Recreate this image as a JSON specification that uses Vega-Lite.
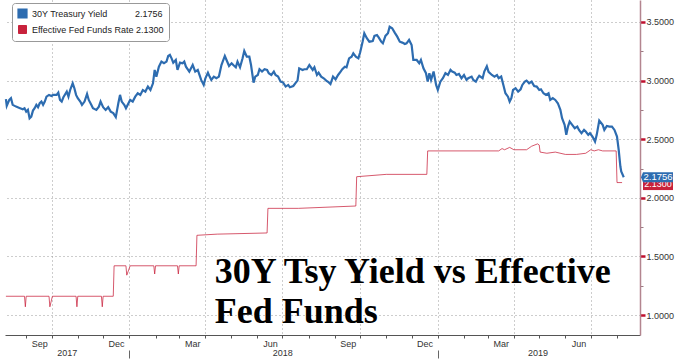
{
"$schema": "https://vega.github.io/schema/vega-lite/v6.json",
"width": 635, "height": 335,
"autosize": {"type": "none"},
"padding": {"left": 5, "top": 0, "right": 40, "bottom": 27},
"background": "white",
"config": {"view": {"stroke": null}, "font": "Liberation Sans"},
"datasets": {
"rates": [
{"series":"EFFR","date":"2017-08-08","value":1.16},
{"series":"EFFR","date":"2017-08-30","value":1.16},
{"series":"EFFR","date":"2017-08-31","value":1.07},
{"series":"EFFR","date":"2017-09-01","value":1.16},
{"series":"EFFR","date":"2017-09-28","value":1.16},
{"series":"EFFR","date":"2017-09-29","value":1.07},
{"series":"EFFR","date":"2017-10-02","value":1.16},
{"series":"EFFR","date":"2017-10-30","value":1.16},
{"series":"EFFR","date":"2017-10-31","value":1.07},
{"series":"EFFR","date":"2017-11-01","value":1.16},
{"series":"EFFR","date":"2017-11-29","value":1.16},
{"series":"EFFR","date":"2017-11-30","value":1.07},
{"series":"EFFR","date":"2017-12-01","value":1.16},
{"series":"EFFR","date":"2017-12-13","value":1.16},
{"series":"EFFR","date":"2017-12-14","value":1.42},
{"series":"EFFR","date":"2017-12-28","value":1.42},
{"series":"EFFR","date":"2017-12-29","value":1.34},
{"series":"EFFR","date":"2018-01-02","value":1.42},
{"series":"EFFR","date":"2018-01-30","value":1.42},
{"series":"EFFR","date":"2018-01-31","value":1.35},
{"series":"EFFR","date":"2018-02-01","value":1.42},
{"series":"EFFR","date":"2018-02-27","value":1.42},
{"series":"EFFR","date":"2018-02-28","value":1.35},
{"series":"EFFR","date":"2018-03-01","value":1.42},
{"series":"EFFR","date":"2018-03-21","value":1.42},
{"series":"EFFR","date":"2018-03-22","value":1.68},
{"series":"EFFR","date":"2018-04-15","value":1.69},
{"series":"EFFR","date":"2018-06-13","value":1.70},
{"series":"EFFR","date":"2018-06-14","value":1.91},
{"series":"EFFR","date":"2018-07-20","value":1.91},
{"series":"EFFR","date":"2018-09-26","value":1.93},
{"series":"EFFR","date":"2018-09-27","value":2.18},
{"series":"EFFR","date":"2018-11-01","value":2.20},
{"series":"EFFR","date":"2018-12-19","value":2.20},
{"series":"EFFR","date":"2018-12-20","value":2.40},
{"series":"EFFR","date":"2019-03-14","value":2.40},
{"series":"EFFR","date":"2019-03-18","value":2.42},
{"series":"EFFR","date":"2019-03-21","value":2.41},
{"series":"EFFR","date":"2019-03-27","value":2.43},
{"series":"EFFR","date":"2019-04-01","value":2.41},
{"series":"EFFR","date":"2019-04-16","value":2.41},
{"series":"EFFR","date":"2019-04-22","value":2.44},
{"series":"EFFR","date":"2019-04-29","value":2.46},
{"series":"EFFR","date":"2019-05-01","value":2.45},
{"series":"EFFR","date":"2019-05-02","value":2.39},
{"series":"EFFR","date":"2019-05-10","value":2.38},
{"series":"EFFR","date":"2019-05-20","value":2.39},
{"series":"EFFR","date":"2019-06-01","value":2.37},
{"series":"EFFR","date":"2019-06-14","value":2.37},
{"series":"EFFR","date":"2019-06-25","value":2.38},
{"series":"EFFR","date":"2019-07-01","value":2.41},
{"series":"EFFR","date":"2019-07-05","value":2.40},
{"series":"EFFR","date":"2019-07-10","value":2.41},
{"series":"EFFR","date":"2019-07-15","value":2.40},
{"series":"EFFR","date":"2019-07-31","value":2.40},
{"series":"EFFR","date":"2019-08-01","value":2.13},
{"series":"EFFR","date":"2019-08-07","value":2.13},
{"series":"30Y","date":"2017-08-08","value":2.841},
{"series":"30Y","date":"2017-08-09","value":2.784},
{"series":"30Y","date":"2017-08-12","value":2.835},
{"series":"30Y","date":"2017-08-14","value":2.85},
{"series":"30Y","date":"2017-08-16","value":2.793},
{"series":"30Y","date":"2017-08-20","value":2.778},
{"series":"30Y","date":"2017-08-24","value":2.767},
{"series":"30Y","date":"2017-08-28","value":2.756},
{"series":"30Y","date":"2017-08-30","value":2.764},
{"series":"30Y","date":"2017-09-01","value":2.735},
{"series":"30Y","date":"2017-09-03","value":2.75},
{"series":"30Y","date":"2017-09-05","value":2.679},
{"series":"30Y","date":"2017-09-07","value":2.693},
{"series":"30Y","date":"2017-09-09","value":2.744},
{"series":"30Y","date":"2017-09-11","value":2.764},
{"series":"30Y","date":"2017-09-13","value":2.793},
{"series":"30Y","date":"2017-09-15","value":2.773},
{"series":"30Y","date":"2017-09-17","value":2.807},
{"series":"30Y","date":"2017-09-19","value":2.821},
{"series":"30Y","date":"2017-09-21","value":2.793},
{"series":"30Y","date":"2017-09-23","value":2.821},
{"series":"30Y","date":"2017-09-25","value":2.863},
{"series":"30Y","date":"2017-09-28","value":2.878},
{"series":"30Y","date":"2017-10-01","value":2.869},
{"series":"30Y","date":"2017-10-03","value":2.878},
{"series":"30Y","date":"2017-10-07","value":2.878},
{"series":"30Y","date":"2017-10-09","value":2.898},
{"series":"30Y","date":"2017-10-11","value":2.835},
{"series":"30Y","date":"2017-10-13","value":2.821},
{"series":"30Y","date":"2017-10-15","value":2.858},
{"series":"30Y","date":"2017-10-19","value":2.906},
{"series":"30Y","date":"2017-10-21","value":2.863},
{"series":"30Y","date":"2017-10-23","value":2.92},
{"series":"30Y","date":"2017-10-26","value":2.977},
{"series":"30Y","date":"2017-10-28","value":2.935},
{"series":"30Y","date":"2017-10-30","value":2.878},
{"series":"30Y","date":"2017-11-01","value":2.85},
{"series":"30Y","date":"2017-11-04","value":2.821},
{"series":"30Y","date":"2017-11-06","value":2.793},
{"series":"30Y","date":"2017-11-09","value":2.821},
{"series":"30Y","date":"2017-11-12","value":2.886},
{"series":"30Y","date":"2017-11-14","value":2.835},
{"series":"30Y","date":"2017-11-17","value":2.793},
{"series":"30Y","date":"2017-11-19","value":2.764},
{"series":"30Y","date":"2017-11-23","value":2.75},
{"series":"30Y","date":"2017-11-26","value":2.778},
{"series":"30Y","date":"2017-11-28","value":2.821},
{"series":"30Y","date":"2017-12-01","value":2.773},
{"series":"30Y","date":"2017-12-04","value":2.75},
{"series":"30Y","date":"2017-12-07","value":2.773},
{"series":"30Y","date":"2017-12-10","value":2.735},
{"series":"30Y","date":"2017-12-13","value":2.722},
{"series":"30Y","date":"2017-12-16","value":2.688},
{"series":"30Y","date":"2017-12-19","value":2.807},
{"series":"30Y","date":"2017-12-21","value":2.878},
{"series":"30Y","date":"2017-12-23","value":2.821},
{"series":"30Y","date":"2017-12-26","value":2.793},
{"series":"30Y","date":"2017-12-28","value":2.764},
{"series":"30Y","date":"2017-12-31","value":2.807},
{"series":"30Y","date":"2018-01-02","value":2.835},
{"series":"30Y","date":"2018-01-05","value":2.821},
{"series":"30Y","date":"2018-01-08","value":2.863},
{"series":"30Y","date":"2018-01-11","value":2.892},
{"series":"30Y","date":"2018-01-14","value":2.878},
{"series":"30Y","date":"2018-01-17","value":2.92},
{"series":"30Y","date":"2018-01-20","value":2.906},
{"series":"30Y","date":"2018-01-23","value":2.949},
{"series":"30Y","date":"2018-01-26","value":2.92},
{"series":"30Y","date":"2018-01-29","value":2.977},
{"series":"30Y","date":"2018-01-31","value":3.091},
{"series":"30Y","date":"2018-02-02","value":3.034},
{"series":"30Y","date":"2018-02-05","value":3.119},
{"series":"30Y","date":"2018-02-08","value":3.162},
{"series":"30Y","date":"2018-02-11","value":3.148},
{"series":"30Y","date":"2018-02-14","value":3.162},
{"series":"30Y","date":"2018-02-16","value":3.21},
{"series":"30Y","date":"2018-02-18","value":3.219},
{"series":"30Y","date":"2018-02-20","value":3.19},
{"series":"30Y","date":"2018-02-22","value":3.153},
{"series":"30Y","date":"2018-02-25","value":3.176},
{"series":"30Y","date":"2018-02-27","value":3.091},
{"series":"30Y","date":"2018-03-02","value":3.153},
{"series":"30Y","date":"2018-03-05","value":3.148},
{"series":"30Y","date":"2018-03-07","value":3.162},
{"series":"30Y","date":"2018-03-09","value":3.119},
{"series":"30Y","date":"2018-03-13","value":3.077},
{"series":"30Y","date":"2018-03-15","value":3.105},
{"series":"30Y","date":"2018-03-17","value":3.133},
{"series":"30Y","date":"2018-03-20","value":3.077},
{"series":"30Y","date":"2018-03-23","value":3.091},
{"series":"30Y","date":"2018-03-25","value":3.048},
{"series":"30Y","date":"2018-03-27","value":3.006},
{"series":"30Y","date":"2018-03-30","value":2.963},
{"series":"30Y","date":"2018-04-01","value":3.02},
{"series":"30Y","date":"2018-04-04","value":3.068},
{"series":"30Y","date":"2018-04-06","value":3.034},
{"series":"30Y","date":"2018-04-08","value":3.006},
{"series":"30Y","date":"2018-04-11","value":3.034},
{"series":"30Y","date":"2018-04-14","value":3.02},
{"series":"30Y","date":"2018-04-17","value":3.034},
{"series":"30Y","date":"2018-04-20","value":3.133},
{"series":"30Y","date":"2018-04-24","value":3.21},
{"series":"30Y","date":"2018-04-26","value":3.176},
{"series":"30Y","date":"2018-04-29","value":3.125},
{"series":"30Y","date":"2018-05-02","value":3.148},
{"series":"30Y","date":"2018-05-04","value":3.133},
{"series":"30Y","date":"2018-05-07","value":3.114},
{"series":"30Y","date":"2018-05-09","value":3.162},
{"series":"30Y","date":"2018-05-12","value":3.114},
{"series":"30Y","date":"2018-05-15","value":3.19},
{"series":"30Y","date":"2018-05-17","value":3.253},
{"series":"30Y","date":"2018-05-20","value":3.204},
{"series":"30Y","date":"2018-05-23","value":3.204},
{"series":"30Y","date":"2018-05-25","value":3.133},
{"series":"30Y","date":"2018-05-28","value":2.983},
{"series":"30Y","date":"2018-05-30","value":3.034},
{"series":"30Y","date":"2018-06-02","value":3.048},
{"series":"30Y","date":"2018-06-04","value":3.097},
{"series":"30Y","date":"2018-06-07","value":3.077},
{"series":"30Y","date":"2018-06-10","value":3.097},
{"series":"30Y","date":"2018-06-13","value":3.091},
{"series":"30Y","date":"2018-06-15","value":3.063},
{"series":"30Y","date":"2018-06-18","value":3.048},
{"series":"30Y","date":"2018-06-21","value":3.077},
{"series":"30Y","date":"2018-06-23","value":3.048},
{"series":"30Y","date":"2018-06-26","value":3.034},
{"series":"30Y","date":"2018-06-29","value":2.991},
{"series":"30Y","date":"2018-07-02","value":2.983},
{"series":"30Y","date":"2018-07-05","value":2.949},
{"series":"30Y","date":"2018-07-08","value":2.963},
{"series":"30Y","date":"2018-07-10","value":2.943},
{"series":"30Y","date":"2018-07-14","value":2.954},
{"series":"30Y","date":"2018-07-17","value":2.983},
{"series":"30Y","date":"2018-07-19","value":3.0},
{"series":"30Y","date":"2018-07-21","value":3.105},
{"series":"30Y","date":"2018-07-25","value":3.091},
{"series":"30Y","date":"2018-07-27","value":3.097},
{"series":"30Y","date":"2018-07-30","value":3.097},
{"series":"30Y","date":"2018-08-02","value":3.133},
{"series":"30Y","date":"2018-08-06","value":3.091},
{"series":"30Y","date":"2018-08-08","value":3.114},
{"series":"30Y","date":"2018-08-11","value":3.048},
{"series":"30Y","date":"2018-08-13","value":3.068},
{"series":"30Y","date":"2018-08-16","value":3.034},
{"series":"30Y","date":"2018-08-19","value":3.02},
{"series":"30Y","date":"2018-08-22","value":3.0},
{"series":"30Y","date":"2018-08-25","value":2.985},
{"series":"30Y","date":"2018-08-27","value":2.971},
{"series":"30Y","date":"2018-08-30","value":3.034},
{"series":"30Y","date":"2018-09-02","value":3.011},
{"series":"30Y","date":"2018-09-05","value":3.048},
{"series":"30Y","date":"2018-09-08","value":3.077},
{"series":"30Y","date":"2018-09-10","value":3.097},
{"series":"30Y","date":"2018-09-13","value":3.119},
{"series":"30Y","date":"2018-09-15","value":3.114},
{"series":"30Y","date":"2018-09-18","value":3.19},
{"series":"30Y","date":"2018-09-21","value":3.204},
{"series":"30Y","date":"2018-09-23","value":3.233},
{"series":"30Y","date":"2018-09-26","value":3.204},
{"series":"30Y","date":"2018-09-29","value":3.19},
{"series":"30Y","date":"2018-10-01","value":3.238},
{"series":"30Y","date":"2018-10-04","value":3.332},
{"series":"30Y","date":"2018-10-06","value":3.404},
{"series":"30Y","date":"2018-10-09","value":3.361},
{"series":"30Y","date":"2018-10-12","value":3.332},
{"series":"30Y","date":"2018-10-16","value":3.338},
{"series":"30Y","date":"2018-10-18","value":3.381},
{"series":"30Y","date":"2018-10-21","value":3.389},
{"series":"30Y","date":"2018-10-23","value":3.369},
{"series":"30Y","date":"2018-10-26","value":3.332},
{"series":"30Y","date":"2018-10-28","value":3.318},
{"series":"30Y","date":"2018-10-31","value":3.381},
{"series":"30Y","date":"2018-11-03","value":3.404},
{"series":"30Y","date":"2018-11-05","value":3.46},
{"series":"30Y","date":"2018-11-08","value":3.446},
{"series":"30Y","date":"2018-11-11","value":3.409},
{"series":"30Y","date":"2018-11-14","value":3.375},
{"series":"30Y","date":"2018-11-17","value":3.332},
{"series":"30Y","date":"2018-11-20","value":3.324},
{"series":"30Y","date":"2018-11-23","value":3.312},
{"series":"30Y","date":"2018-11-25","value":3.318},
{"series":"30Y","date":"2018-11-28","value":3.347},
{"series":"30Y","date":"2018-12-01","value":3.304},
{"series":"30Y","date":"2018-12-03","value":3.176},
{"series":"30Y","date":"2018-12-07","value":3.176},
{"series":"30Y","date":"2018-12-10","value":3.148},
{"series":"30Y","date":"2018-12-12","value":3.176},
{"series":"30Y","date":"2018-12-15","value":3.105},
{"series":"30Y","date":"2018-12-18","value":3.063},
{"series":"30Y","date":"2018-12-20","value":2.991},
{"series":"30Y","date":"2018-12-22","value":3.063},
{"series":"30Y","date":"2018-12-24","value":3.006},
{"series":"30Y","date":"2018-12-27","value":3.077},
{"series":"30Y","date":"2018-12-30","value":2.963},
{"series":"30Y","date":"2019-01-01","value":2.92},
{"series":"30Y","date":"2019-01-04","value":2.991},
{"series":"30Y","date":"2019-01-07","value":3.02},
{"series":"30Y","date":"2019-01-10","value":3.063},
{"series":"30Y","date":"2019-01-13","value":3.048},
{"series":"30Y","date":"2019-01-16","value":3.091},
{"series":"30Y","date":"2019-01-18","value":3.077},
{"series":"30Y","date":"2019-01-21","value":3.068},
{"series":"30Y","date":"2019-01-23","value":3.048},
{"series":"30Y","date":"2019-01-26","value":3.057},
{"series":"30Y","date":"2019-01-29","value":3.02},
{"series":"30Y","date":"2019-02-01","value":3.048},
{"series":"30Y","date":"2019-02-04","value":3.006},
{"series":"30Y","date":"2019-02-06","value":3.02},
{"series":"30Y","date":"2019-02-10","value":3.034},
{"series":"30Y","date":"2019-02-12","value":3.006},
{"series":"30Y","date":"2019-02-15","value":2.991},
{"series":"30Y","date":"2019-02-17","value":3.02},
{"series":"30Y","date":"2019-02-19","value":3.041},
{"series":"30Y","date":"2019-02-23","value":3.02},
{"series":"30Y","date":"2019-02-25","value":3.077},
{"series":"30Y","date":"2019-02-28","value":3.122},
{"series":"30Y","date":"2019-03-02","value":3.075},
{"series":"30Y","date":"2019-03-06","value":3.048},
{"series":"30Y","date":"2019-03-09","value":3.034},
{"series":"30Y","date":"2019-03-12","value":3.048},
{"series":"30Y","date":"2019-03-14","value":3.02},
{"series":"30Y","date":"2019-03-17","value":3.034},
{"series":"30Y","date":"2019-03-20","value":2.949},
{"series":"30Y","date":"2019-03-22","value":2.892},
{"series":"30Y","date":"2019-03-25","value":2.863},
{"series":"30Y","date":"2019-03-27","value":2.821},
{"series":"30Y","date":"2019-03-29","value":2.85},
{"series":"30Y","date":"2019-03-31","value":2.92},
{"series":"30Y","date":"2019-04-03","value":2.935},
{"series":"30Y","date":"2019-04-06","value":2.906},
{"series":"30Y","date":"2019-04-09","value":2.926},
{"series":"30Y","date":"2019-04-11","value":2.963},
{"series":"30Y","date":"2019-04-14","value":2.991},
{"series":"30Y","date":"2019-04-16","value":3.0},
{"series":"30Y","date":"2019-04-19","value":2.977},
{"series":"30Y","date":"2019-04-22","value":2.991},
{"series":"30Y","date":"2019-04-25","value":2.954},
{"series":"30Y","date":"2019-04-28","value":2.949},
{"series":"30Y","date":"2019-05-01","value":2.92},
{"series":"30Y","date":"2019-05-03","value":2.926},
{"series":"30Y","date":"2019-05-06","value":2.892},
{"series":"30Y","date":"2019-05-09","value":2.878},
{"series":"30Y","date":"2019-05-12","value":2.892},
{"series":"30Y","date":"2019-05-14","value":2.835},
{"series":"30Y","date":"2019-05-17","value":2.85},
{"series":"30Y","date":"2019-05-20","value":2.835},
{"series":"30Y","date":"2019-05-23","value":2.807},
{"series":"30Y","date":"2019-05-26","value":2.75},
{"series":"30Y","date":"2019-05-28","value":2.679},
{"series":"30Y","date":"2019-05-31","value":2.622},
{"series":"30Y","date":"2019-06-02","value":2.537},
{"series":"30Y","date":"2019-06-04","value":2.608},
{"series":"30Y","date":"2019-06-06","value":2.65},
{"series":"30Y","date":"2019-06-09","value":2.622},
{"series":"30Y","date":"2019-06-12","value":2.594},
{"series":"30Y","date":"2019-06-15","value":2.608},
{"series":"30Y","date":"2019-06-17","value":2.579},
{"series":"30Y","date":"2019-06-20","value":2.551},
{"series":"30Y","date":"2019-06-23","value":2.579},
{"series":"30Y","date":"2019-06-25","value":2.565},
{"series":"30Y","date":"2019-06-28","value":2.537},
{"series":"30Y","date":"2019-06-30","value":2.551},
{"series":"30Y","date":"2019-07-03","value":2.522},
{"series":"30Y","date":"2019-07-06","value":2.48},
{"series":"30Y","date":"2019-07-08","value":2.537},
{"series":"30Y","date":"2019-07-11","value":2.659},
{"series":"30Y","date":"2019-07-15","value":2.622},
{"series":"30Y","date":"2019-07-17","value":2.579},
{"series":"30Y","date":"2019-07-20","value":2.613},
{"series":"30Y","date":"2019-07-23","value":2.608},
{"series":"30Y","date":"2019-07-26","value":2.608},
{"series":"30Y","date":"2019-07-29","value":2.579},
{"series":"30Y","date":"2019-08-01","value":2.522},
{"series":"30Y","date":"2019-08-03","value":2.409},
{"series":"30Y","date":"2019-08-05","value":2.267},
{"series":"30Y","date":"2019-08-06","value":2.224},
{"series":"30Y","date":"2019-08-09","value":2.1756}
],
"ends": [
{"series":"EFFR","value":2.13,"label":"2.1300"},
{"series":"30Y","value":2.1756,"label":"2.1756"}
]
},
"resolve": {"axis": {"x": "independent", "y": "independent"}},
"layer": [
{
"data": {"name": "rates"},
"mark": {"type": "line", "interpolate": "linear"},
"encoding": {
"x": {"field": "date", "type": "temporal",
"scale": {"domain": [{"year":2017,"month":8,"date":6,"hours":22},{"year":2019,"month":8,"date":28,"hours":5}]},
"axis": {"orient": "bottom", "title": null,
"values": [{"year":2017,"month":9,"date":1},{"year":2017,"month":10,"date":1},{"year":2017,"month":11,"date":1},{"year":2017,"month":12,"date":1},{"year":2018,"month":1,"date":1},{"year":2018,"month":2,"date":1},{"year":2018,"month":3,"date":1},{"year":2018,"month":4,"date":1},{"year":2018,"month":5,"date":1},{"year":2018,"month":6,"date":1},{"year":2018,"month":7,"date":1},{"year":2018,"month":8,"date":1},{"year":2018,"month":9,"date":1},{"year":2018,"month":10,"date":1},{"year":2018,"month":11,"date":1},{"year":2018,"month":12,"date":1},{"year":2019,"month":1,"date":1},{"year":2019,"month":2,"date":1},{"year":2019,"month":3,"date":1},{"year":2019,"month":4,"date":1},{"year":2019,"month":5,"date":1},{"year":2019,"month":6,"date":1},{"year":2019,"month":7,"date":1},{"year":2019,"month":8,"date":1}],
"format": "%b",
"labelExpr": "month(datum.value) % 3 == 2 ? datum.label : ''",
"labelOffset": 13, "labelFlush": false, "labelOverlap": false, "labelBound": false,
"labelPadding": 1, "labelFontSize": 9, "labelColor": "#333", "labelFont": "Liberation Sans",
"tickSize": 3, "tickColor": "#555", "domainColor": "#555",
"grid": true, "gridColor": "#9a9a9a", "gridDash": [1, 3],
"gridOpacity": {"condition": {"test": "month(datum.value) % 3 == 0", "value": 1}, "value": 0}}},
"y": {"field": "value", "type": "quantitative",
"scale": {"domain": [0.8295, 3.6876], "nice": false, "zero": false},
"axis": {"orient": "right", "title": null,
"values": [1, 1.25, 1.5, 1.75, 2, 2.25, 2.5, 2.75, 3, 3.25, 3.5],
"labelExpr": "(datum.value * 4) % 2 == 0 ? format(datum.value, '.4f') : ''",
"labelPadding": 1, "labelFontSize": 9, "labelColor": "#333", "labelFont": "Liberation Sans",
"labelOverlap": false, "labelBound": false,
"domainColor": "#b3858f", "domainWidth": 1.5,
"tickColor": {"condition": {"test": "(datum.value * 4) % 2 == 0", "value": "#c0102e"}, "value": "#9a7a82"},
"tickWidth": {"condition": {"test": "(datum.value * 4) % 2 == 0", "value": 2.5}, "value": 1},
"tickSize": {"condition": {"test": "(datum.value * 4) % 2 == 0", "value": 5}, "value": 3},
"grid": true, "gridColor": "#9a9a9a", "gridDash": [1, 3],
"gridOpacity": {"condition": {"test": "(datum.value * 4) % 2 == 0", "value": 1}, "value": 0}}},
"color": {"field": "series", "type": "nominal",
"scale": {"domain": ["30Y", "EFFR"], "range": ["#2d6cb0", "#c8223c"]},
"legend": {"orient": "none", "legendX": 7, "legendY": 3, "title": null,
"symbolType": "square", "symbolSize": 64, "symbolStrokeWidth": 0,
"labelExpr": "datum.label == '30Y' ? '30Y Treasury Yield\u00a0\u00a0\u00a0\u00a0\u00a0\u00a0\u00a0\u00a0\u00a0\u00a0\u00a02.1756' : 'Effective Fed Funds Rate\u00a02.1300'",
"fillColor": "#ffffff", "strokeColor": "#999999", "cornerRadius": 3, "padding": 5, "rowPadding": 1,
"labelFont": "Liberation Sans", "labelFontSize": 9, "labelColor": "#222", "labelOffset": 4, "labelLimit": 300,
"encode": {"symbols": {"update": {"fill": {"scale": "color", "field": "value"}, "opacity": {"value": 1}}}}}},
"strokeWidth": {"field": "series", "type": "nominal",
"scale": {"domain": ["30Y", "EFFR"], "range": [2.2, 1]}, "legend": null},
"strokeOpacity": {"field": "series", "type": "nominal",
"scale": {"domain": ["30Y", "EFFR"], "range": [1, 0.75]}, "legend": null}
}
},
{
"data": {"values": [{}]},
"mark": {"type": "text", "text": ["30Y Tsy Yield vs Effective", "Fed Funds"], "align": "left", "baseline": "alphabetic",
"font": "Liberation Serif", "fontWeight": "bold", "fontSize": 36, "lineHeight": 40, "color": "#000000"},
"encoding": {
"x": {"datum": {"year": 2018, "month": 4, "date": 12}, "type": "temporal",
"scale": {"domain": [{"year":2017,"month":8,"date":6,"hours":22},{"year":2019,"month":8,"date":28,"hours":5}]},
"axis": {"orient": "bottom", "title": null,
"values": [{"year":2017,"month":10,"date":19},{"year":2018,"month":7,"date":1},{"year":2019,"month":4,"date":29}],
"format": "%Y", "ticks": false, "tickSize": 0, "domain": false, "grid": false,
"labelPadding": 13, "labelFontSize": 9, "labelColor": "#333", "labelFont": "Liberation Sans",
"labelFlush": false, "labelOverlap": false, "labelBound": false}},
"y": {"datum": 1.275, "type": "quantitative",
"scale": {"domain": [0.8295, 3.6876], "nice": false, "zero": false}, "axis": null}
}
},
{
"data": {"name": "ends"},
"transform": [{"filter": "datum.series == 'EFFR'"}],
"mark": {"type": "point", "filled": true, "opacity": 1, "strokeWidth": 0, "size": 900, "color": "#c8223c",
"shape": "M-1,-0.33L1,-0.33L1,0.5L-1,0.5Z"},
"encoding": {
"x": {"datum": {"year": 2019, "month": 9, "date": 18, "hours": 12}, "type": "temporal",
"scale": {"domain": [{"year":2017,"month":8,"date":6,"hours":22},{"year":2019,"month":8,"date":28,"hours":5}]},
"axis": {"orient": "bottom", "title": null,
"values": [{"year":2018,"month":1,"date":1},{"year":2019,"month":1,"date":1}],
"labels": false, "domain": false, "grid": false, "offset": 15, "tickSize": 8, "tickColor": "#666"}},
"y": {"field": "value", "type": "quantitative",
"scale": {"domain": [0.8295, 3.6876], "nice": false, "zero": false}, "axis": null}
}
},
{
"data": {"name": "ends"},
"transform": [{"filter": "datum.series == 'EFFR'"}],
"mark": {"type": "text", "color": "#ffffff", "fontSize": 9, "font": "Liberation Sans", "dy": 1, "baseline": "middle", "align": "center"},
"encoding": {
"x": {"datum": {"year": 2019, "month": 9, "date": 18, "hours": 12}, "type": "temporal",
"scale": {"domain": [{"year":2017,"month":8,"date":6,"hours":22},{"year":2019,"month":8,"date":28,"hours":5}]}, "axis": null},
"y": {"field": "value", "type": "quantitative",
"scale": {"domain": [0.8295, 3.6876], "nice": false, "zero": false}, "axis": null},
"text": {"field": "label"}
}
},
{
"data": {"name": "ends"},
"transform": [{"filter": "datum.series == '30Y'"}],
"mark": {"type": "point", "filled": true, "opacity": 1, "strokeWidth": 0, "size": 900, "color": "#2d6cb0",
"shape": "M-1.13,0L-1,-0.333L1,-0.333L1,0.333L-1,0.333Z"},
"encoding": {
"x": {"datum": {"year": 2019, "month": 9, "date": 18, "hours": 12}, "type": "temporal",
"scale": {"domain": [{"year":2017,"month":8,"date":6,"hours":22},{"year":2019,"month":8,"date":28,"hours":5}]}, "axis": null},
"y": {"field": "value", "type": "quantitative",
"scale": {"domain": [0.8295, 3.6876], "nice": false, "zero": false}, "axis": null}
}
},
{
"data": {"name": "ends"},
"transform": [{"filter": "datum.series == '30Y'"}],
"mark": {"type": "text", "color": "#ffffff", "fontSize": 9.5, "font": "Liberation Sans", "baseline": "middle", "align": "center"},
"encoding": {
"x": {"datum": {"year": 2019, "month": 9, "date": 18, "hours": 12}, "type": "temporal",
"scale": {"domain": [{"year":2017,"month":8,"date":6,"hours":22},{"year":2019,"month":8,"date":28,"hours":5}]}, "axis": null},
"y": {"field": "value", "type": "quantitative",
"scale": {"domain": [0.8295, 3.6876], "nice": false, "zero": false}, "axis": null},
"text": {"field": "label"}
}
}
]
}
